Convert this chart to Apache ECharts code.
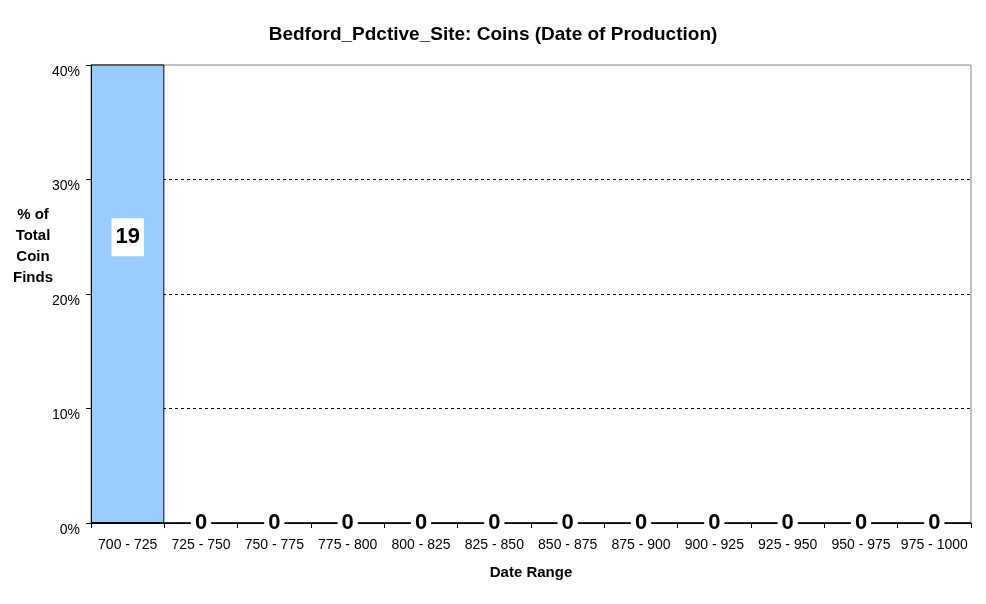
<!DOCTYPE html>
<html><head><meta charset="utf-8">
<script src="https://cdn.jsdelivr.net/npm/echarts@6/dist/echarts.min.js"></script>
<style>html,body{margin:0;padding:0;background:#fff}#c{width:986px;height:604px}</style>
</head><body><div id="c"></div>
<script>
const categories = ['700 - 725','725 - 750','750 - 775','775 - 800','800 - 825','825 - 850','850 - 875','875 - 900','900 - 925','925 - 950','950 - 975','975 - 1000'];
const coinCounts = [19,0,0,0,0,0,0,0,0,0,0,0];
const yTicks = [0,10,20,30,40];
const titleText = 'Bedford_Pdctive_Site: Coins (Date of Production)';

const total = coinCounts.reduce((a,b)=>a+b,0);
const pct = coinCounts.map(c => c/total*100);
const F = '"Liberation Sans", Arial, sans-serif';

const data = pct.map((v,i) => {
  const d = {value: v, count: coinCounts[i]};
  if (coinCounts[i] > 0) {
    d.label = {position: ['50%','37.7%'], align:'center', verticalAlign:'middle', padding:[8,4,8,4], lineHeight:22};
  } else {
    d.label = {position: 'inside', padding:[0,4]};
  }
  return d;
});

const chart = echarts.init(document.getElementById('c'), null, {renderer:'canvas'});
chart.setOption({
  backgroundColor:'#fff',
  animation:false,
  title:{text:titleText, left:'center', top:20, textStyle:{fontFamily:F, fontSize:19, fontWeight:'bold', color:'#000'}},
  grid:{left:91, right:15, top:65, bottom:81, show:true, borderColor:'#808080', borderWidth:1, backgroundColor:'#fff'},
  graphic:[{type:'text', x:33, y:204, style:{text:'% of\nTotal\nCoin\nFinds', textAlign:'center', font:'bold 15px '+F, lineHeight:21, fill:'#000'}}],
  xAxis:{type:'category', data:categories, boundaryGap:true,
    name:'Date Range', nameLocation:'middle', nameGap:42,
    nameTextStyle:{fontFamily:F, fontSize:15, fontWeight:'bold', color:'#000'},
    axisLine:{lineStyle:{color:'#000', width:1}},
    axisTick:{show:true, length:5, alignWithLabel:false, lineStyle:{color:'#000'}},
    axisLabel:{interval:0, margin:15, fontFamily:F, fontSize:14, color:'#000'}},
  yAxis:{type:'value', min:yTicks[0], max:yTicks[yTicks.length-1], interval:10,
    axisLine:{show:true, lineStyle:{color:'#000', width:1}},
    axisTick:{show:true, length:5, lineStyle:{color:'#000'}},
    axisLabel:{margin:11, fontFamily:F, fontSize:14, color:'#000', verticalAlign:'top', formatter:v=>v+'%'},
    splitLine:{show:true, showMaxLine:false, showMinLine:false, lineStyle:{color:'#000', type:[3,3], width:1}}},
  series:[{type:'bar', data:data, barCategoryGap:'0%', clip:true,
    itemStyle:{color:'#99CCFF', borderColor:'#000', borderWidth:1},
    label:{show:true, formatter:p=>String(p.data.count), fontFamily:F, fontSize:22, fontWeight:'bold', color:'#000', backgroundColor:'#fff'}}]
});
</script></body></html>
